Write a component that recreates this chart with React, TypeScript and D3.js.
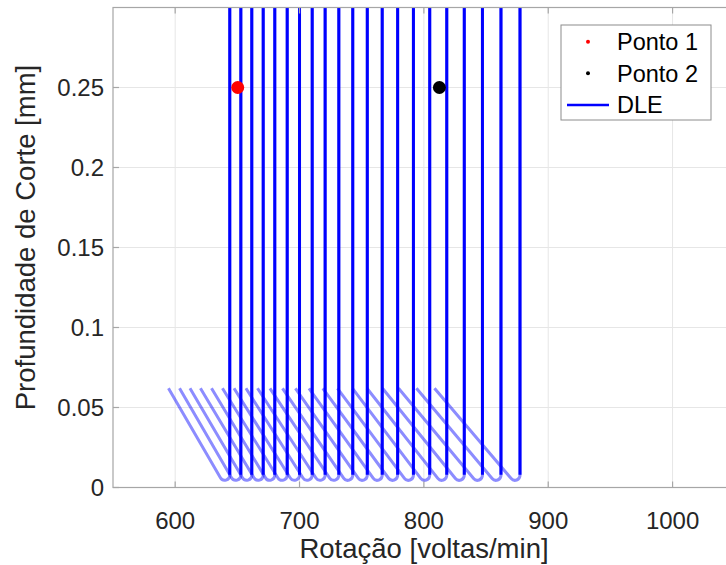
import React, { useRef, useEffect } from 'react';
import * as d3 from 'd3';

// rotação (voltas/min) onde o ramo vertical de cada lóbulo sobe
const lobeVert = [643.9, 652.8, 661.6, 670.8, 680.1, 690.1, 700.0, 710.2, 720.6, 731.6, 742.8,
    754.5, 766.5, 778.9, 791.6, 804.7, 818.4, 832.5, 847.1, 862.0, 877.3];
// rotação onde o ramo inclinado começa (no topo, profundidade 0.062 mm)
const lobeStart = [594.6, 603.5, 611.9, 620.3, 629.2, 638.0, 647.3, 656.9, 666.2, 676.2, 686.3,
    696.7, 707.6, 718.7, 730.5, 742.6, 754.2, 766.7, 779.6, 794.0, 808.5];
const lobeTopDepth = 0.062;
const lobeMinDepth = 0.0045;

const points = [
    { name: 'Ponto 1', rpm: 650.3, depth: 0.25, color: '#ff0000' },
    { name: 'Ponto 2', rpm: 812.5, depth: 0.25, color: '#000000' },
];

const xTicks = [600, 700, 800, 900, 1000];
const yTicks = [0, 0.05, 0.1, 0.15, 0.2, 0.25];

const App = () => {
    const svgRef = useRef<SVGSVGElement>(null);

    useEffect(() => {
        const svg = d3.select(svgRef.current);
        svg.selectAll('*').remove();

        const width = 726;
        const height = 565;
        const marginLeft = 113;
        const marginTop = 7.5;
        const plotBottom = 487.5;
        const font = '"Liberation Sans", Arial, Helvetica, sans-serif';

        const x = d3.scaleLinear().domain([550, 1050]).range([marginLeft, marginLeft + 500 * 1.2435]);
        const y = d3.scaleLinear().domain([0, 0.3]).range([plotBottom, marginTop]);
        const plotRight = x(1050);

        svg.attr('width', width).attr('height', height).attr('viewBox', [0, 0, width, height])
            .style('font-family', font);

        svg.append('rect').attr('width', width).attr('height', height).attr('fill', 'white');

        svg.append('defs').append('clipPath').attr('id', 'plot-clip')
            .append('rect')
            .attr('x', marginLeft).attr('y', marginTop)
            .attr('width', plotRight - marginLeft).attr('height', plotBottom - marginTop);

        // grid
        const grid = svg.append('g').attr('stroke', '#e6e6e6').attr('stroke-width', 1);
        grid.selectAll('line.gx').data(xTicks).join('line')
            .attr('x1', d => x(d)).attr('x2', d => x(d))
            .attr('y1', marginTop).attr('y2', plotBottom);
        grid.selectAll('line.gy').data(yTicks.filter(d => d > 0)).join('line')
            .attr('class', 'gy')
            .attr('x1', marginLeft).attr('x2', plotRight)
            .attr('y1', d => y(d)).attr('y2', d => y(d));

        // lobes
        const plot = svg.append('g').attr('clip-path', 'url(#plot-clip)');
        const r = 5;
        const yMin = y(lobeMinDepth);
        const yTop = y(lobeTopDepth);
        const lobePath = (i: number) => {
            const xs = x(lobeStart[i]);
            const xv = x(lobeVert[i]);
            // corner below the minimum so that the rounded bottom touches lobeMinDepth
            let yc = yMin + 8;
            for (let k = 0; k < 3; k++) {
                const theta = Math.atan2(xv - xs, yc - yTop);
                yc = yMin + r / Math.tan(theta / 2) - r;
            }
            const p = d3.path();
            p.moveTo(xs, yTop);
            p.arcTo(xv, yc, xv, marginTop - 20, r);
            p.lineTo(xv, marginTop - 20);
            return p.toString();
        };
        const idx = d3.range(lobeVert.length);
        plot.selectAll('path.light').data(idx).join('path')
            .attr('class', 'light')
            .attr('d', lobePath)
            .attr('fill', 'none')
            .attr('stroke', '#0000ff')
            .attr('stroke-opacity', 0.45)
            .attr('stroke-width', 3);
        plot.selectAll('line.dark').data(idx).join('line')
            .attr('class', 'dark')
            .attr('x1', i => x(lobeVert[i])).attr('x2', i => x(lobeVert[i]))
            .attr('y1', y(0.008)).attr('y2', marginTop - 20)
            .attr('stroke', '#0000ff')
            .attr('stroke-width', 3);

        // points
        plot.selectAll('circle.pt').data(points).join('circle')
            .attr('cx', d => x(d.rpm)).attr('cy', d => y(d.depth))
            .attr('r', 6.5).attr('fill', d => d.color);

        // axes box
        const axisColor = '#a6a6a6';
        svg.append('rect')
            .attr('x', marginLeft).attr('y', marginTop)
            .attr('width', plotRight - marginLeft).attr('height', plotBottom - marginTop)
            .attr('fill', 'none').attr('stroke', axisColor).attr('stroke-width', 1.2);

        const ticks = svg.append('g').attr('stroke', axisColor).attr('stroke-width', 1.2);
        xTicks.forEach(t => {
            ticks.append('line').attr('x1', x(t)).attr('x2', x(t)).attr('y1', plotBottom).attr('y2', plotBottom - 6);
            ticks.append('line').attr('x1', x(t)).attr('x2', x(t)).attr('y1', marginTop).attr('y2', marginTop + 6);
        });
        yTicks.forEach(t => {
            ticks.append('line').attr('x1', marginLeft).attr('x2', marginLeft + 6).attr('y1', y(t)).attr('y2', y(t));
        });

        svg.append('g').selectAll('text').data(xTicks).join('text')
            .attr('x', d => x(d)).attr('y', 521)
            .attr('dy', '0.35em')
            .attr('text-anchor', 'middle')
            .attr('font-size', 24)
            .attr('fill', '#262626')
            .text(d => d3.format('d')(d));

        svg.append('g').selectAll('text').data(yTicks).join('text')
            .attr('x', 104).attr('y', d => y(d))
            .attr('dy', '0.35em')
            .attr('text-anchor', 'end')
            .attr('font-size', 24)
            .attr('fill', '#262626')
            .text(d => String(d));

        svg.append('text')
            .attr('x', 424).attr('y', 548)
            .attr('dy', '0.35em')
            .attr('text-anchor', 'middle')
            .attr('font-size', 27.5)
            .attr('fill', '#262626')
            .text('Rotação [voltas/min]');

        svg.append('text')
            .attr('transform', `translate(25,${(marginTop + plotBottom) / 2 - 10}) rotate(-90)`)
            .attr('dy', '0.35em')
            .attr('text-anchor', 'middle')
            .attr('font-size', 27.5)
            .attr('fill', '#262626')
            .text('Profundidade de Corte [mm]');

        // legend
        const legend = svg.append('g');
        legend.append('rect')
            .attr('x', 561).attr('y', 25).attr('width', 150).attr('height', 95)
            .attr('fill', 'white').attr('stroke', '#8c8c8c').attr('stroke-width', 1);
        const items = [
            ...points.map(p => ({ name: p.name, color: p.color, kind: 'dot' })),
            { name: 'DLE', color: '#0000ff', kind: 'line' },
        ];
        items.forEach((it, i) => {
            const cy = 41.7 + i * 31.6;
            if (it.kind === 'dot') {
                legend.append('circle').attr('cx', 588).attr('cy', cy).attr('r', 2).attr('fill', it.color);
            } else {
                legend.append('line').attr('x1', 567).attr('x2', 609).attr('y1', cy).attr('y2', cy)
                    .attr('stroke', it.color).attr('stroke-width', 2.5);
            }
            legend.append('text')
                .attr('x', 617).attr('y', cy)
                .attr('dy', '0.35em')
                .attr('font-size', 23.5)
                .attr('fill', '#000')
                .text(it.name);
        });
    }, []);

    return (
        <div style={{ position: 'absolute', left: 0, top: 0 }}>
            <svg ref={svgRef}></svg>
        </div>
    );
};

export default App;
